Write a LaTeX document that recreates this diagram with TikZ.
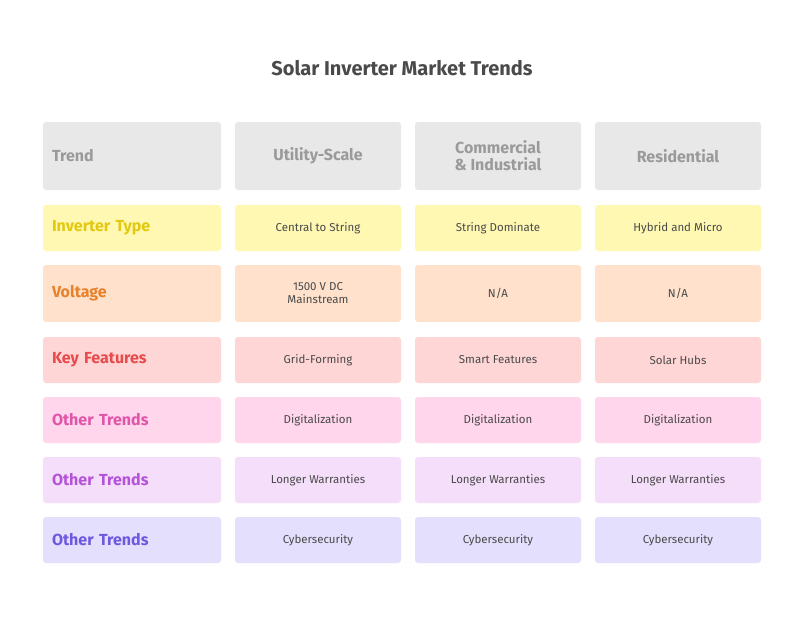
\documentclass[tikz,border=0pt]{standalone}
\usepackage{fontspec}
\setmainfont{Fira Sans}
\definecolor{hdfill}{HTML}{E8E8E8}\definecolor{hdtext}{HTML}{9A9A9A}
\definecolor{yf}{HTML}{FFF8B3}\definecolor{yt}{HTML}{E2C80E}
\definecolor{of}{HTML}{FFE1CC}\definecolor{ot}{HTML}{E8822A}
\definecolor{rf}{HTML}{FFD6D6}\definecolor{rt}{HTML}{E84B4B}
\definecolor{pf}{HTML}{FFD6EC}\definecolor{pt}{HTML}{E055A8}
\definecolor{vf}{HTML}{F5DEFA}\definecolor{vt}{HTML}{B452D8}
\definecolor{if}{HTML}{E4DFFC}\definecolor{it}{HTML}{6E58DE}
\definecolor{cell}{HTML}{4A4A4A}
\tikzset{
 box/.style={rounded corners=3pt,draw=none,inner sep=0pt,align=center},
 hd/.style={box,fill=hdfill,text=hdtext,font=\fontsize{16}{17}\selectfont\bfseries},
 lab/.style={box,font=\fontsize{16}{18}\selectfont\bfseries},
 cl/.style={box,text=cell,font=\fontsize{11.5}{13}\selectfont},
}
\begin{document}
\begin{tikzpicture}[x=1pt,y=-1pt]
\fill[white] (0,0) rectangle (804,630);
\node[font=\fontsize{20}{22}\selectfont\bfseries,text=cell] (title) at (402,68) {Solar Inverter Market Trends};
\def\cell#1#2#3#4#5#6#7{% name, x1,x2,y1,y2, style, text
 \node[#6,minimum width={#3-#2},minimum height={#5-#4}] (#1) at ({(#2+#3)/2},{(#4+#5)/2}) {#7};}
% header
\cell{h1}{43}{221}{122}{190}{hd,text width=160pt,align=left}{Trend}
\cell{h2}{235}{401}{122}{190}{hd}{Utility-Scale}
\cell{h3}{415}{581}{122}{190}{hd}{Commercial\\\& Industrial}
\cell{h4}{595}{761}{122}{190}{hd}{Residential}
% rows
\def\row#1#2#3#4#5#6#7#8#9{%
 \cell{#1a}{43}{221}{#2}{#3}{lab,fill=#4,text=#5,text width=160pt,align=left}{#6}
 \cell{#1b}{235}{401}{#2}{#3}{cl,fill=#4}{#7}
 \cell{#1c}{415}{581}{#2}{#3}{cl,fill=#4}{#8}
 \cell{#1d}{595}{761}{#2}{#3}{cl,fill=#4}{#9}}
\row{r1}{205}{251}{yf}{yt}{Inverter Type}{Central to String}{String Dominate}{Hybrid and Micro}
\row{r2}{265}{322}{of}{ot}{Voltage}{1500 V DC\\Mainstream}{N/A}{N/A}
\row{r3}{337}{383}{rf}{rt}{Key Features}{Grid-Forming}{Smart Features}{Solar Hubs}
\row{r4}{397}{443}{pf}{pt}{Other Trends}{Digitalization}{Digitalization}{Digitalization}
\row{r5}{457}{503}{vf}{vt}{Other Trends}{Longer Warranties}{Longer Warranties}{Longer Warranties}
\row{r6}{517}{563}{if}{it}{Other Trends}{Cybersecurity}{Cybersecurity}{Cybersecurity}
\end{tikzpicture}
\end{document}
